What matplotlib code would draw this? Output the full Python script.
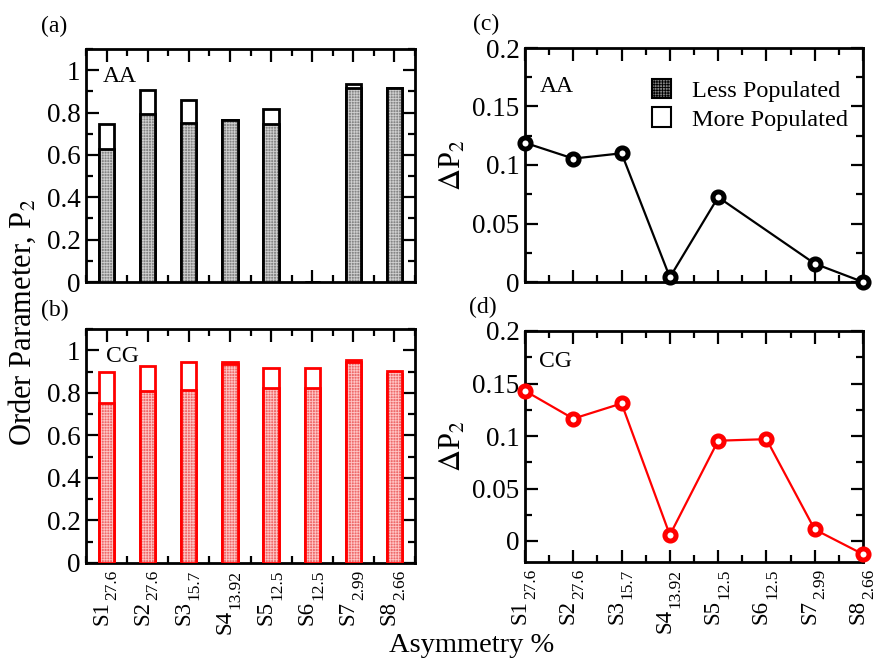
import numpy as np
import matplotlib
matplotlib.use('Agg')
import matplotlib.pyplot as plt
from matplotlib.patches import Patch
from matplotlib.ticker import MultipleLocator, FuncFormatter, NullFormatter
from matplotlib.transforms import IdentityTransform

plt.rcParams['font.family'] = ['Liberation Serif', 'DejaVu Serif']
plt.rcParams['mathtext.fontset'] = 'stix'
plt.rcParams['hatch.linewidth'] = 0.6

# systems and their asymmetry
systems = ['S1', 'S2', 'S3', 'S4', 'S5', 'S6', 'S7', 'S8']
asym = ['27.6', '27.6', '15.7', '13.92', '12.5', '12.5', '2.99', '2.66']

# order parameter P2, all-atom (S6 not simulated)
aa_less = [0.629, 0.795, 0.749, 0.763, 0.744, 0.0, 0.917, 0.914]
aa_more = [0.744, 0.905, 0.859, 0.767, 0.816, 0.0, 0.936, 0.914]
# order parameter P2, coarse-grained
cg_less = [0.752, 0.807, 0.812, 0.937, 0.823, 0.821, 0.945, 0.902]
cg_more = [0.897, 0.925, 0.944, 0.945, 0.917, 0.917, 0.955, 0.890]

# delta P2
aa_x = [1, 2, 3, 4, 5, 7, 8]
aa_dp = [0.119, 0.1055, 0.110, 0.004, 0.0725, 0.0157, 0.0]
cg_dp = [0.143, 0.1165, 0.131, 0.0057, 0.0955, 0.097, 0.011, -0.0126]

x = np.arange(1, 9)
W, H = 877, 662
fig = plt.figure(figsize=(W / 100, H / 100), dpi=100)


def box(l, t, r, b):
    return [l / W, 1 - b / H, (r - l) / W, (b - t) / H]


ax_a = fig.add_axes(box(86, 49, 415, 282))
ax_b = fig.add_axes(box(86, 329, 415, 563))
ax_c = fig.add_axes(box(525, 48, 863, 282))
ax_d = fig.add_axes(box(525, 331, 863, 562))

fmt = FuncFormatter(lambda v, p: ('%g' % round(v, 3)))


def style(ax):
    for sp in ax.spines.values():
        sp.set_linewidth(2)
    ax.tick_params(which='both', direction='in', top=True, right=True,
                   labelsize=19.5, width=1.6, pad=4)
    ax.tick_params(which='major', length=9)
    ax.tick_params(which='minor', length=5)
    ax.xaxis.set_major_locator(MultipleLocator(1))
    ax.xaxis.set_minor_locator(MultipleLocator(0.5))
    ax.xaxis.set_major_formatter(NullFormatter())
    ax.yaxis.set_major_formatter(fmt)


def bars(ax, less, more, color, face, hatch_col):
    bw = 0.37
    ax.bar(x, more, width=bw, facecolor='white', edgecolor=color,
           linewidth=2, zorder=2)
    ax.bar(x, less, width=bw, facecolor=face, edgecolor=hatch_col,
           hatch='++++++', linewidth=0, zorder=3)
    ax.bar(x, less, width=bw, facecolor='none', edgecolor=color,
           linewidth=2, zorder=4)
    ax.set_xlim(0.5, 8.5)
    ax.set_ylim(0, 1.1)
    ax.yaxis.set_major_locator(MultipleLocator(0.2))
    ax.yaxis.set_minor_locator(MultipleLocator(0.1))
    style(ax)


bars(ax_a, aa_less, aa_more, 'black', '#858585', '#cfcfcf')
bars(ax_b, cg_less, cg_more, 'red', '#ee6a6a', '#ffc4c4')

for ax, xs, ys, col, lo in [(ax_c, aa_x, aa_dp, 'black', 0.0),
                            (ax_d, x, cg_dp, 'red', -0.02)]:
    ax.plot(xs, ys, color=col, linewidth=1.6, marker='o', markersize=8,
            markerfacecolor='white', markeredgecolor=col,
            markeredgewidth=3.6, clip_on=False, zorder=5)
    ax.set_xlim(1, 8)
    ax.set_ylim(lo, 0.2)
    ax.yaxis.set_major_locator(MultipleLocator(0.05))
    ax.yaxis.set_minor_locator(MultipleLocator(0.025))
    style(ax)
    ax.set_ylabel(r'$\Delta$P$_2$', fontsize=22, labelpad=3)

# rotated tick labels with a large subscript: subscript next to the axis,
# the system name after it
renderer = fig.canvas.get_renderer()
for ax in (ax_b, ax_d):
    for xi, s, a in zip(x, systems, asym):
        px, py = ax.transData.transform((xi, ax.get_ylim()[0]))
        t = fig.text(px + 6, py - 7, a, transform=IdentityTransform(),
                     rotation=90, ha='center', va='top', fontsize=12.5)
        bb = t.get_window_extent(renderer)
        fig.text(px - 5, bb.y0 - 1, s, transform=IdentityTransform(),
                 rotation=90, ha='center', va='top', fontsize=16.5)

# system tags inside panels
ax_a.text(0.05, 0.86, 'AA', transform=ax_a.transAxes, fontsize=17)
ax_b.text(0.06, 0.86, 'CG', transform=ax_b.transAxes, fontsize=17)
ax_c.text(0.045, 0.81, 'AA', transform=ax_c.transAxes, fontsize=17)
ax_d.text(0.04, 0.845, 'CG', transform=ax_d.transAxes, fontsize=17)

handles = [Patch(facecolor='#858585', edgecolor='black', hatch='++++++',
                 linewidth=1.5, label='Less Populated'),
           Patch(facecolor='white', edgecolor='black', linewidth=1.5,
                 label='More Populated')]
ax_c.legend(handles=handles, loc='upper right', frameon=False, fontsize=17.5,
            handlelength=0.75, handleheight=0.85, handletextpad=0.9,
            labelspacing=0.22, bbox_to_anchor=(1.0, 0.93), borderaxespad=0.2)

# panel letters
for txt, px, py in [('(a)', 54, 26), ('(b)', 55, 310), ('(c)', 486, 24),
                    ('(d)', 483, 307)]:
    fig.text(px / W, 1 - py / H, txt, fontsize=17, ha='center', va='center')

fig.text(22 / W, 1 - 322 / H, r'Order Parameter, P$_2$', rotation=90,
         fontsize=22, ha='center', va='center')
fig.text(472 / W, 1 - 645 / H, 'Asymmetry %', fontsize=20.5,
         ha='center', va='center')

fig.savefig('out.png', dpi=100)
